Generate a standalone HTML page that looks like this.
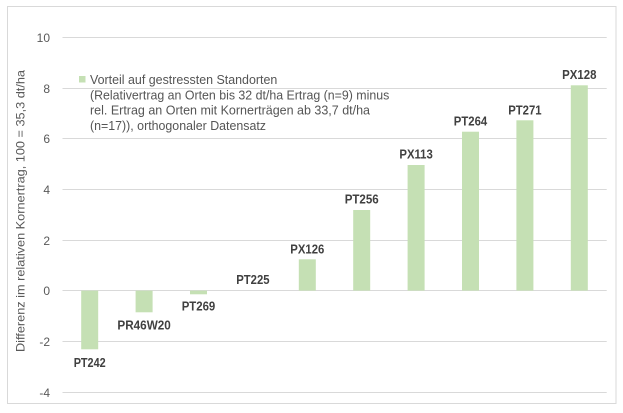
<!DOCTYPE html>
<html>
<head>
<meta charset="utf-8">
<style>
  html, body { margin: 0; padding: 0; background: #ffffff; }
  svg { display: block; }
  text { font-family: "Liberation Sans", Arial, sans-serif; }
</style>
</head>
<body>
<svg width="623" height="413" viewBox="0 0 623 413" xmlns="http://www.w3.org/2000/svg">
  <rect x="0" y="0" width="623" height="413" fill="#ffffff"/>
  <!-- chart border -->
  <rect x="7.5" y="6.5" width="608.5" height="397" fill="none" stroke="#d9d9d9" stroke-width="1"/>

  <!-- gridlines -->
  <g stroke="#d9d9d9" stroke-width="1">
    <line x1="62.5" y1="37.5" x2="606.7" y2="37.5"/>
    <line x1="62.5" y1="88.5" x2="606.7" y2="88.5"/>
    <line x1="62.5" y1="138.5" x2="606.7" y2="138.5"/>
    <line x1="62.5" y1="189.5" x2="606.7" y2="189.5"/>
    <line x1="62.5" y1="240.5" x2="606.7" y2="240.5"/>
    <line x1="62.5" y1="290.5" x2="606.7" y2="290.5"/>
    <line x1="62.5" y1="341.5" x2="606.7" y2="341.5"/>
    <line x1="62.5" y1="392.5" x2="606.7" y2="392.5"/>
  </g>

  <!-- y tick labels -->
  <g fill="#595959" font-size="12" text-anchor="end">
    <text x="50" y="42">10</text>
    <text x="50" y="93">8</text>
    <text x="50" y="143">6</text>
    <text x="50" y="194">4</text>
    <text x="50" y="245">2</text>
    <text x="50" y="295">0</text>
    <text x="50" y="346">-2</text>
    <text x="50" y="397">-4</text>
  </g>

  <!-- y axis title -->
  <text transform="translate(24.5,211) rotate(-90)" text-anchor="middle" fill="#595959" font-size="12" textLength="282" lengthAdjust="spacingAndGlyphs">Differenz im relativen Kornertrag, 100 = 35,3 dt/ha</text>

  <!-- bars -->
  <g fill="#c5e0b4">
    <rect x="81.2" y="290.6" width="17" height="58.7"/>
    <rect x="135.6" y="290.6" width="17" height="21.7"/>
    <rect x="190" y="290.6" width="17" height="3.7"/>
    <rect x="298.8" y="259.3" width="17" height="31.3"/>
    <rect x="353.2" y="210" width="17" height="80.6"/>
    <rect x="407.6" y="165" width="17" height="125.6"/>
    <rect x="462" y="131.7" width="17" height="158.9"/>
    <rect x="516.4" y="120.3" width="17" height="170.3"/>
    <rect x="570.8" y="85.3" width="17" height="205.3"/>
  </g>

  <!-- data labels -->
  <g fill="#404040" font-size="12.5" font-weight="bold" text-anchor="middle" lengthAdjust="spacingAndGlyphs">
    <text x="89.7" y="367" textLength="32" lengthAdjust="spacingAndGlyphs">PT242</text>
    <text x="144.1" y="329.3" textLength="53.4" lengthAdjust="spacingAndGlyphs">PR46W20</text>
    <text x="198.5" y="310.7" textLength="33.6" lengthAdjust="spacingAndGlyphs">PT269</text>
    <text x="252.9" y="284" textLength="33.3" lengthAdjust="spacingAndGlyphs">PT225</text>
    <text x="307.3" y="253.4" textLength="34" lengthAdjust="spacingAndGlyphs">PX126</text>
    <text x="361.7" y="203.7" textLength="34" lengthAdjust="spacingAndGlyphs">PT256</text>
    <text x="416.1" y="158.7" textLength="33.4" lengthAdjust="spacingAndGlyphs">PX113</text>
    <text x="470.5" y="125.4" textLength="33.4" lengthAdjust="spacingAndGlyphs">PT264</text>
    <text x="524.9" y="114.7" textLength="33.4" lengthAdjust="spacingAndGlyphs">PT271</text>
    <text x="579.3" y="79" textLength="34.3" lengthAdjust="spacingAndGlyphs">PX128</text>
  </g>

  <!-- legend -->
  <rect x="79" y="76" width="6.5" height="6.5" fill="#c5e0b4"/>
  <g fill="#555555" font-size="12.5">
    <text x="90" y="84" textLength="187.3" lengthAdjust="spacingAndGlyphs">Vorteil auf gestressten Standorten</text>
    <text x="90" y="99.3" textLength="299.3" lengthAdjust="spacingAndGlyphs">(Relativertrag an Orten bis 32 dt/ha Ertrag (n=9) minus</text>
    <text x="90" y="114.7" textLength="280" lengthAdjust="spacingAndGlyphs">rel. Ertrag an Orten mit Kornerträgen ab 33,7 dt/ha</text>
    <text x="90" y="130" textLength="176" lengthAdjust="spacingAndGlyphs">(n=17)), orthogonaler Datensatz</text>
  </g>
</svg>
</body>
</html>
